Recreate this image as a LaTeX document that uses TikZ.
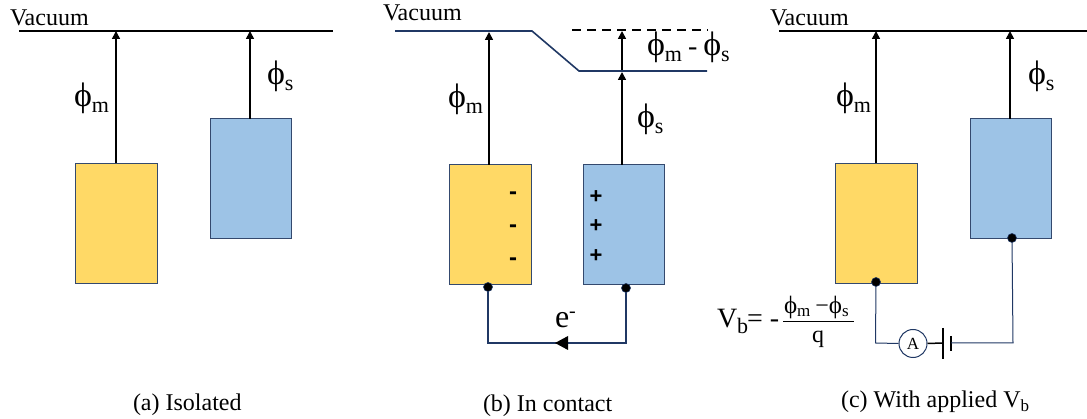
\documentclass[tikz,border=0pt]{standalone}
\usepackage{fontspec}
\setmainfont{Liberation Serif}
\newfontfamily\sgnfont{Liberation Sans}
\usetikzlibrary{arrows.meta}
\definecolor{goldfill}{HTML}{FFD966}
\definecolor{bluefill}{HTML}{9DC3E6}
\definecolor{edgeblue}{HTML}{34496E}
\definecolor{wireblue}{HTML}{203864}
\newcommand{\fsz}[1]{\fontsize{#1}{#1}\selectfont}
\newcommand{\phisym}[1]{{\fsz{34}ϕ}\raisebox{-5.5pt}{\fsz{22}#1}}
\newcommand{\phismall}[1]{{\fsz{25}ϕ}\raisebox{-3.5pt}{\fsz{17}#1}}
\tikzset{
 x=1pt,y=-1pt,
 metal/.style={draw=edgeblue,line width=1pt,fill=goldfill,minimum width=82pt,minimum height=120pt,inner sep=0pt,outer sep=0pt,anchor=north west},
 semi/.style={draw=edgeblue,line width=1pt,fill=bluefill,minimum width=81.5pt,minimum height=119.5pt,inner sep=0pt,outer sep=0pt,anchor=north west},
 level/.style={line width=1.6pt,black},
 blevel/.style={line width=1.6pt,wireblue},
 up/.style={line width=1.6pt,black,-{Triangle[length=8pt,width=8pt]},shorten >=0pt},
 lbl/.style={inner sep=0pt,outer sep=0pt,anchor=base west},
 vac/.style={lbl,font=\fsz{24}},
 captxt/.style={lbl,font=\fsz{24}},
 sgn/.style={inner sep=0pt,outer sep=0pt,anchor=center,font=\sgnfont\bfseries\fsz{22}},
 dot/.style={circle,fill=black,draw=wireblue,line width=.6pt,minimum size=9pt,inner sep=0pt,outer sep=0pt},
 wire/.style={line width=1.6pt,wireblue},
 thinw/.style={line width=1pt,wireblue},
 meter/.style={circle,draw=wireblue,line width=1pt,fill=white,minimum size=28pt,inner sep=0pt,font=\fsz{17}},
}
\begin{document}
\begin{tikzpicture}
\useasboundingbox (0,0) rectangle (1087,419);
% panel a
\coordinate (avl) at (19,31); \coordinate (avr) at (333,31);
\coordinate (avm) at (116,31); \coordinate (avs) at (250,31);
\node[metal] (am) at (75,163.5) {};
\node[semi] (as) at (210,119) {};
\draw[level] (avl) -- (avr);
\draw[up] (avm |- am.north) -- (avm);
\draw[up] (avs |- as.north) -- (avs);
\node[vac] (avt) at (10,26) {Vacuum};
\node[lbl] (apm) at (74,107) {\phisym{m}};
\node[lbl] (aps) at (267,85) {\phisym{s}};
\node[captxt] (acap) at (133,410) {(a) Isolated};
% panel b
\coordinate (b1) at (395,31); \coordinate (b2) at (532,31); \coordinate (b3) at (579,71); \coordinate (b4) at (707,71);
\coordinate (bd1) at (572,30); \coordinate (bd2) at (708,30);
\node[metal] (bm) at (449,165) {};
\node[semi] (bs) at (583,165) {};
\draw[blevel] (b1) -- (b2) -- (b3) -- (b4);
\draw[level,dashed,dash pattern=on 9pt off 6pt] (bd1) -- (bd2);
\coordinate (bvm) at (489,32); \coordinate (bl) at (622,72); \coordinate (bu) at (622,31); \coordinate (bl2) at (622,70);
\draw[up] (bvm |- bm.north) -- (bvm);
\draw[up] (bl |- bs.north) -- (bl);
\draw[up] (bl2) -- (bu);
\node[vac] (bvt) at (383,21) {Vacuum};
\node[lbl] (bpm) at (448,108) {\phisym{m}};
\node[lbl] (bps) at (637,128) {\phisym{s}};
\node[lbl] (bpd) at (647,56) {\phisym{m}\hspace{6pt}{\fsz{28}-}\hspace{6pt}\phisym{s}};
\foreach \n/\y in {1/196,2/229,3/262} \node[sgn,font=\sgnfont\bfseries\fsz{24}] (bn\n) at (513,\y) {-};
\foreach \n/\y in {1/197.5,2/226.5,3/256.5} \node[sgn] (bp\n) at (596,\y) {+};
\node[dot] (bd) at (488,287) {};
\node[dot] (bt) at (626,288) {};
\coordinate (bc1) at (488,343); \coordinate (bc2) at (626,343);
\draw[wire] (bd) -- (bc1) -- (bc2) -- (bt);
\coordinate (bah) at (555,343); \coordinate (bat1) at (568,336); \coordinate (bat2) at (568,350);
\draw[draw=none,fill=black] (bah) -- (bat1) -- (bat2) -- cycle;
\node[lbl,font=\fsz{32}] (be) at (555,328) {e\raisebox{10pt}{\fsz{20}-}};
\node[captxt] (bcap) at (483,411) {(b) In contact};
% panel c
\coordinate (cvl) at (779,31); \coordinate (cvr) at (1087,31);
\coordinate (cvm) at (876,31); \coordinate (cvs) at (1010,31);
\node[metal] (cm) at (835,163.5) {};
\node[semi] (cs) at (970,119) {};
\draw[level] (cvl) -- (cvr);
\draw[up] (cvm |- cm.north) -- (cvm);
\draw[up] (cvs |- cs.north) -- (cvs);
\node[vac] (cvt) at (770,26) {Vacuum};
\node[lbl] (cpm) at (836,107) {\phisym{m}};
\node[lbl] (cps) at (1028,85) {\phisym{s}};
\node[dot] (cd) at (876,282) {};
\node[dot] (ct) at (1012,238) {};
\node[meter] (ca) at (913,343.5) {A};
\coordinate (cc1) at (875.5,343); \coordinate (cp1) at (943,343); \coordinate (cp1a) at (943,328); \coordinate (cp1b) at (943,359);
\coordinate (cp2) at (951,343); \coordinate (cp2a) at (951,336); \coordinate (cp2b) at (951,351); \coordinate (cc2) at (1013,343);
\draw[thinw] (cd) -- (cc1) -- (ca.west);
\draw[line width=1.5pt,black] (ca.east) -- (cp1);
\draw[line width=2pt,black] (cp1a) -- (cp1b);
\draw[line width=1.5pt,black] (cp2a) -- (cp2b);
\draw[thinw] (cp2) -- (cc2) -- (ct);
\node[lbl,font=\fsz{28}] (cv) at (717,328) {V\raisebox{-6pt}{\fsz{22}b}\kern-1pt=\hspace{7pt}-};
\coordinate (cb1) at (783,321.5); \coordinate (cb2) at (854,321.5);
\draw[line width=1.4pt,black] (cb1) -- (cb2);
\node[lbl] (cnum) at (784,313.5) {\phismall{m}\hspace{5pt}{\fsz{24}−}\phismall{s}};
\node[lbl,font=\fsz{24}] (cden) at (812,343) {q};
\node[lbl,font=\fsz{24}] (ccap) at (841,407) {(c) With applied V\raisebox{-4pt}{\fsz{17}b}};
\end{tikzpicture}
\end{document}
